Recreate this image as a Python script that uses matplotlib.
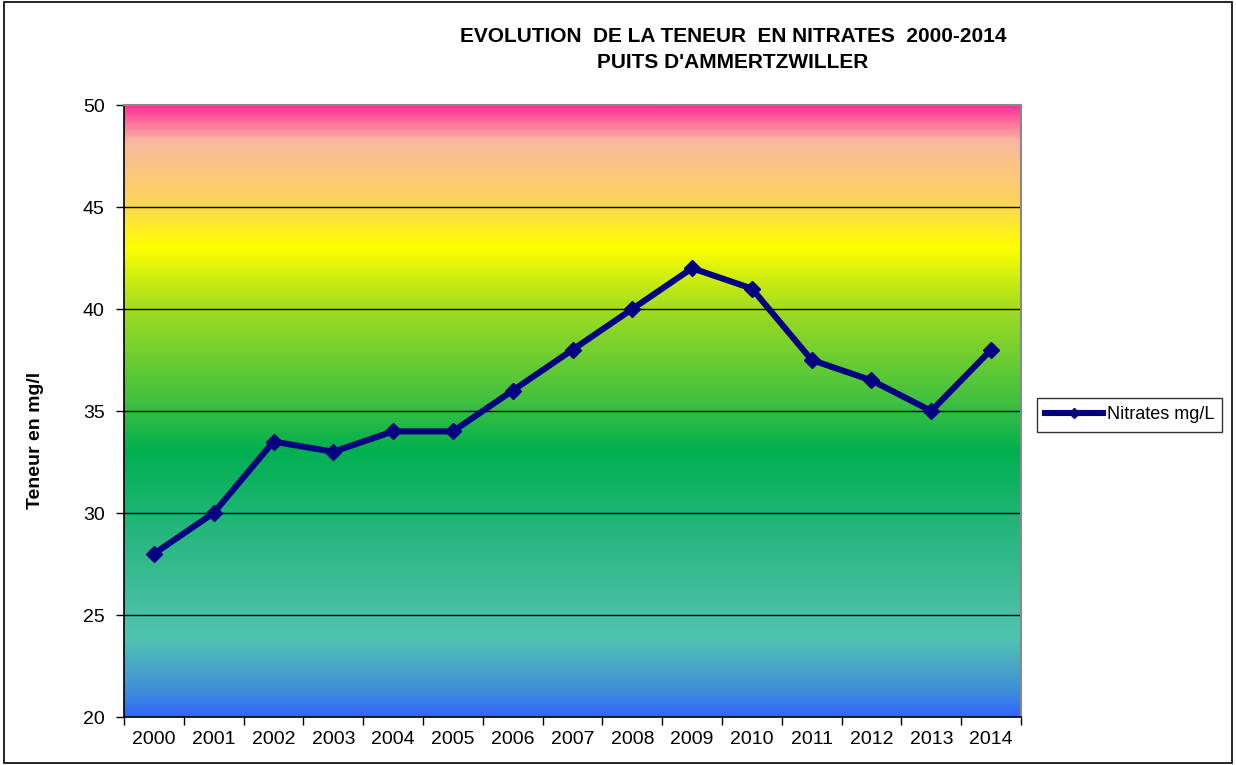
import numpy as np
import matplotlib.pyplot as plt
from matplotlib.colors import LinearSegmentedColormap

plt.rcParams['font.family'] = ['Liberation Sans', 'DejaVu Sans']

# data
years = ["2000", "2001", "2002", "2003", "2004", "2005", "2006", "2007",
         "2008", "2009", "2010", "2011", "2012", "2013", "2014"]
nitrates = [28, 30, 33.5, 33, 34, 34, 36, 38, 40, 42, 41, 37.5, 36.5, 35, 38]

# background gradient (value on the y axis -> colour)
grad_levels = [20, 21.3, 23.8, 28, 33, 35.5, 40, 43.1, 45.3, 48.3, 50]
grad_colors = ["#3366ff", "#4090d8", "#50c4b0", "#30b888", "#00b050",
               "#40c040", "#a0dc20", "#ffff00", "#fcd55a", "#f9b8a0", "#ff3399"]

fig = plt.figure(figsize=(12.36, 7.65), dpi=100)
ax = fig.add_axes([124 / 1236, 1 - 717 / 765, 897 / 1236, 612 / 765])

ymin, ymax = 20, 50
xmin, xmax = -0.5, len(years) - 0.5
pos = [(v - ymin) / (ymax - ymin) for v in grad_levels]
cmap = LinearSegmentedColormap.from_list("bg", list(zip(pos, grad_colors)))
grad = np.linspace(ymin, ymax, 600).reshape(-1, 1)
ax.imshow(grad, cmap=cmap, aspect="auto", origin="lower",
          extent=[xmin, xmax, ymin, ymax], vmin=ymin, vmax=ymax, zorder=0)

for y in range(25, 50, 5):
    ax.axhline(y, color="black", lw=1.0, zorder=1)

x = np.arange(len(years))
ax.plot(x, nitrates, color="#000080", lw=4.4, marker="D", ms=8,
        label="Nitrates mg/L", zorder=3)

ax.set_xlim(xmin, xmax)
ax.set_ylim(ymin, ymax)
ax.set_yticks(range(20, 51, 5))
ax.set_xticks(np.arange(xmin, xmax + 0.01, 1))
ax.set_xticklabels([])
ax.set_xticks(x, minor=True)
ax.set_xticklabels(years, minor=True)
ax.tick_params(axis="x", which="minor", length=0, pad=10, labelsize=14)
ax.tick_params(axis="x", which="major", length=6, width=1, direction="out")
ax.tick_params(axis="y", length=6, width=1, direction="out", labelsize=14, pad=8)

for s in ["top", "right"]:
    ax.spines[s].set_color("#888888")
    ax.spines[s].set_linewidth(1.5)
for s in ["left", "bottom"]:
    ax.spines[s].set_color("black")
    ax.spines[s].set_linewidth(1.2)

fig.text(35 / 1236, 1 - 440 / 765, "Teneur en mg/l", rotation=90,
         ha="center", va="center", fontsize=14, fontweight="bold")

fig.text(733 / 1236, 1 - 37 / 765, "EVOLUTION  DE LA TENEUR  EN NITRATES  2000-2014",
         ha="center", va="center", fontsize=15, fontweight="bold")
fig.text(733 / 1236, 1 - 62 / 765, "PUITS D'AMMERTZWILLER",
         ha="center", va="center", fontsize=15, fontweight="bold")

leg = fig.legend(loc="center left", bbox_to_anchor=(1028 / 1236, 1 - 415 / 765),
                 fontsize=13, frameon=True, fancybox=False, handlelength=3.2,
                 borderpad=0.45, handletextpad=0.2)
leg.get_frame().set_edgecolor("black")
leg.get_frame().set_linewidth(1.0)
for h in leg.legend_handles:
    h.set_markersize(5)

# outer frame
fig.patches.append(plt.Rectangle((0.003, 0.003), 0.994, 0.994, transform=fig.transFigure,
                                 fill=False, edgecolor="black", lw=1.2))

fig.savefig("out.png", dpi=100)
